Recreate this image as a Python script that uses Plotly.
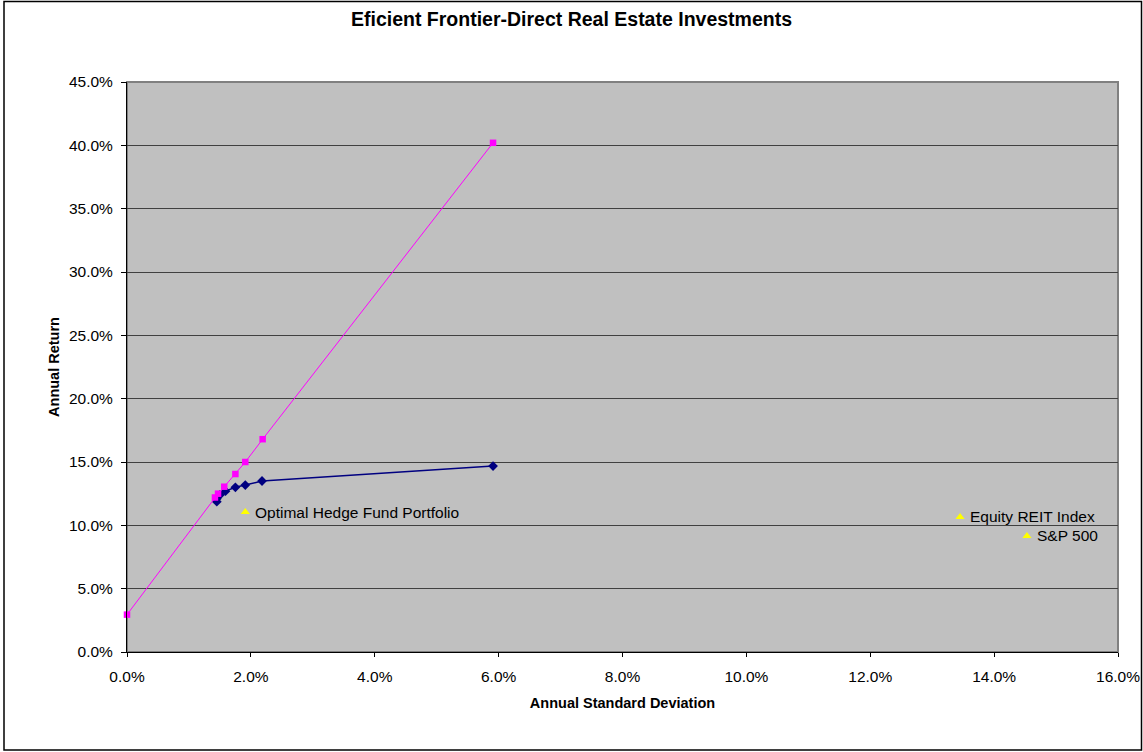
import plotly.graph_objects as go

# Data (percent)
frontier_sd = [1.45, 1.45, 1.50, 1.59, 1.75, 1.91, 2.18, 5.91]
frontier_ret = [11.87, 12.10, 12.40, 12.70, 13.00, 13.18, 13.50, 14.68]

cml_sd = [0.0, 1.42, 1.47, 1.57, 1.75, 1.91, 2.19, 5.91]
cml_ret = [2.95, 12.20, 12.50, 13.05, 14.05, 15.00, 16.80, 40.20]

bench_names = ["Optimal Hedge Fund Portfolio", "Equity REIT Index", "S&P 500"]
bench_sd = [1.91, 13.45, 14.53]
bench_ret = [11.05, 10.66, 9.16]

FONT = "Liberation Sans, Arial, sans-serif"

fig = go.Figure()
fig.add_trace(go.Scatter(x=frontier_sd, y=frontier_ret, mode="lines+markers",
                         line=dict(color="#000080", width=1.5),
                         marker=dict(symbol="diamond", size=7.5, color="#000080"),
                         showlegend=False))
fig.add_trace(go.Scatter(x=cml_sd, y=cml_ret, mode="lines+markers",
                         line=dict(color="#FF00FF", width=1), cliponaxis=False,
                         marker=dict(symbol="square", size=6.5, color="#FF00FF"),
                         showlegend=False))
fig.add_trace(go.Scatter(x=bench_sd, y=bench_ret, mode="markers",
                         marker=dict(symbol="triangle-up", size=8, color="#FFFF00"),
                         showlegend=False))
for name, sx, ry in zip(bench_names, bench_sd, bench_ret):
    fig.add_annotation(x=sx, y=ry, text=name, showarrow=False, xanchor="left",
                       yanchor="middle", xshift=8,
                       font=dict(family=FONT, size=15.5, color="black"))

W, H = 1143, 752
L, R, T, B = 127, 25, 82, 100
pw, ph = W - L - R, H - T - B

fig.update_layout(
    width=W, height=H,
    margin=dict(l=L, r=R, t=T, b=B),
    paper_bgcolor="white", plot_bgcolor="#C0C0C0",
    font=dict(family=FONT, size=15.5, color="black"),
    title=dict(text="<b>Eficient Frontier-Direct Real Estate Investments</b>",
               x=0.5, xanchor="center", y=1 - 19 / H, yanchor="middle",
               font=dict(size=19.5, family=FONT)),
    xaxis=dict(range=[0, 16], dtick=2, tick0=0, tickformat=".1f", ticksuffix="%",
               automargin=False,
               showgrid=False, zeroline=False, ticks="outside", ticklen=4,
               ticklabelstandoff=6,
               tickcolor="black", showline=True, linecolor="black", linewidth=1,
               title=dict(text="<b>Annual Standard Deviation</b>", font=dict(size=14.5), standoff=14)),
    yaxis=dict(range=[0, 45], dtick=5, tick0=0, tickformat=".1f", ticksuffix="%",
               automargin=False,
               showgrid=True, gridcolor="#404040", gridwidth=1, zeroline=False,
               ticks="outside", ticklen=5, tickcolor="black", showline=True,
               ticklabelstandoff=5,
               linecolor="black", linewidth=1,
               title=dict(text="<b>Annual Return</b>", font=dict(size=14.5), standoff=5)),
)

# plot area border (top/right gray)
fig.add_shape(type="rect", xref="paper", yref="paper", x0=0, x1=1, y0=0, y1=1,
              line=dict(color="#808080", width=2), layer="below")
# outer chart border
fig.add_shape(type="rect", xref="paper", yref="paper",
              x0=(4 - L) / pw, x1=(1141.5 - L) / pw,
              y0=(H - B - 750) / ph, y1=(H - B - 1.5) / ph,
              line=dict(color="black", width=1.5))

fig.write_html("out.html")
